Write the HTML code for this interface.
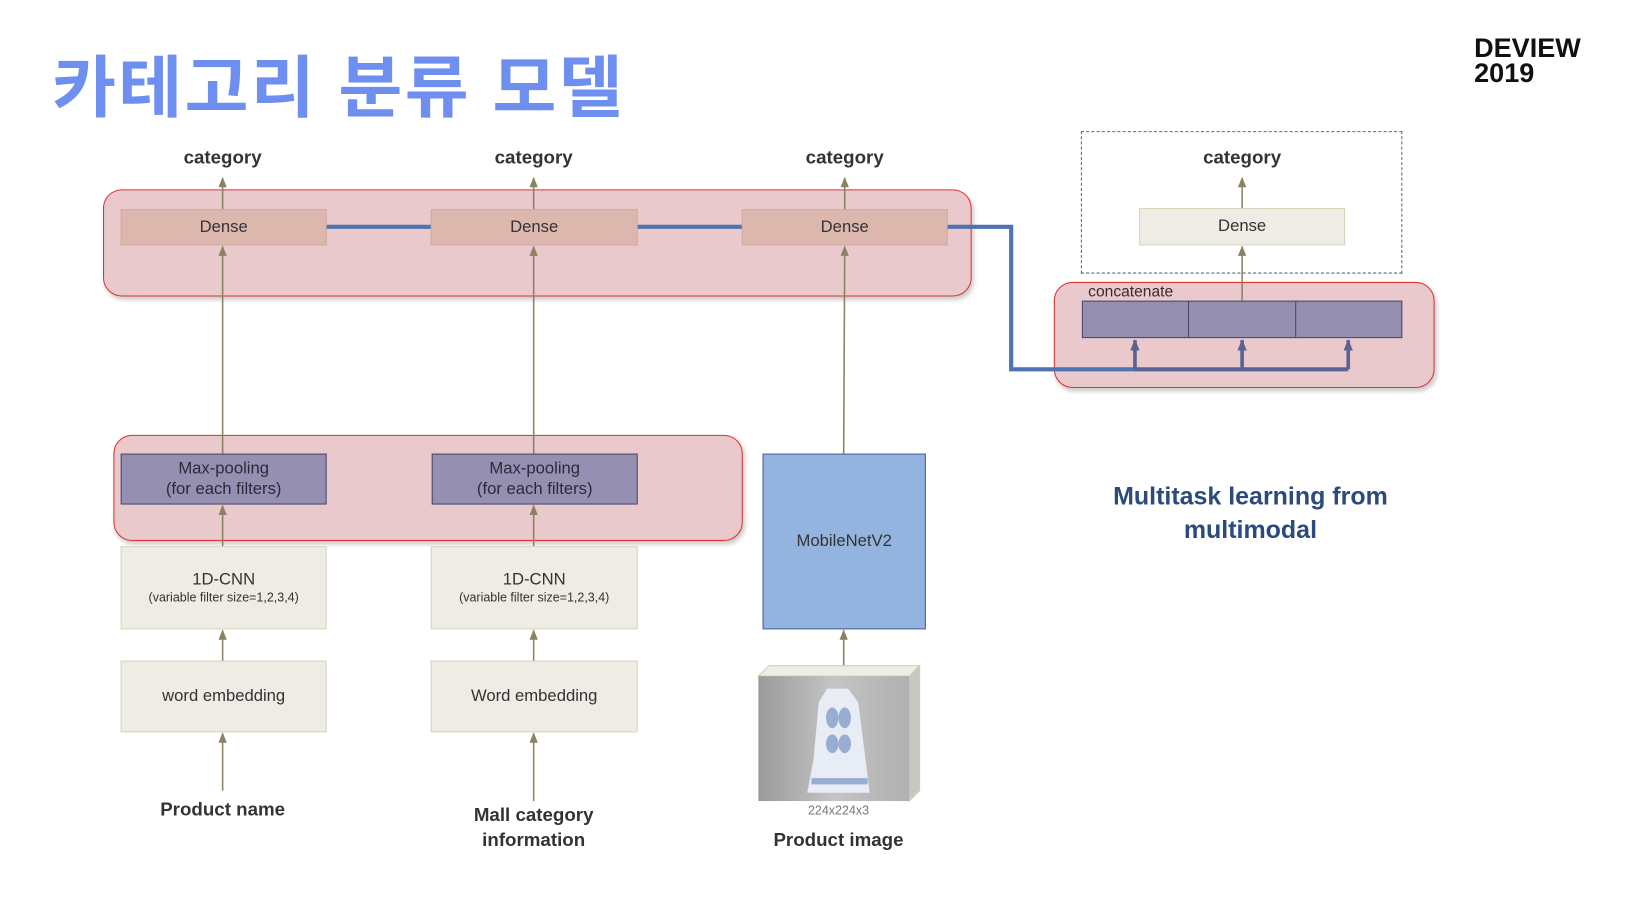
<!DOCTYPE html>
<html><head><meta charset="utf-8"><style>
body{margin:0;background:#fff;width:1626px;height:898px;overflow:hidden}
#s{position:absolute;left:0;top:0;width:1563px;height:863px;transform:scale(1.0403);transform-origin:0 0;font-family:"Liberation Sans",sans-serif}
.a{position:absolute;box-sizing:border-box}
.t{position:absolute;text-align:center;white-space:nowrap}
.red{border:1.5px solid #e03232;background:#e9c9cb;border-radius:18px;box-shadow:2px 3px 4px rgba(0,0,0,.2)}
.dn{background:#dcb7ae;border:1px solid #d2a99e;font-size:16px;color:#333;display:flex;align-items:center;justify-content:center}
.mp{background:#9590b2;border:1px solid #4e4668;font-size:16px;color:#2a2a3a;display:flex;align-items:center;justify-content:center;text-align:center;line-height:20px}
.bg{background:#eeece5;border:1px solid #d9d5bb;color:#333;display:flex;flex-direction:column;align-items:center;justify-content:center;font-size:16px}
.cat{font-weight:bold;font-size:18px;color:#333;width:200px}
.lab{font-weight:bold;font-size:18px;color:#333;width:240px;line-height:24px}
</style></head><body><div id="s">
<div class="t" style="left:50px;top:32px;font-size:65px;color:#6f8ff0;font-family:'Liberation Sans','Noto Sans CJK KR',sans-serif;font-weight:bold;letter-spacing:2px;text-align:left;transform:scaleX(1.03);transform-origin:0 0">카테고리 분류 모델</div>
<div class="t" style="left:1417px;top:34px;font-size:26px;font-weight:bold;line-height:24px;text-align:left;color:#111">DEVIEW<br>2019</div>

<div class="a red" style="left:99px;top:182px;width:835px;height:103px"></div>
<div class="a red" style="left:109px;top:418px;width:605px;height:102px"></div>
<div class="a red" style="left:1013px;top:271px;width:366px;height:102px"></div>
<div class="a" style="left:1039px;top:126px;width:309px;height:137px;border:1.5px dashed #4f6a96"></div>

<div class="a dn" style="left:116px;top:201px;width:198px;height:35px">Dense</div>
<div class="a dn" style="left:414px;top:201px;width:199px;height:35px">Dense</div>
<div class="a dn" style="left:713px;top:201px;width:198px;height:35px">Dense</div>
<div class="a bg" style="left:1095px;top:200px;width:198px;height:36px">Dense</div>

<div class="a mp" style="left:116px;top:436px;width:198px;height:49px">Max-pooling<br>(for each filters)</div>
<div class="a mp" style="left:415px;top:436px;width:198px;height:49px">Max-pooling<br>(for each filters)</div>
<div class="a" style="left:1040px;top:289px;width:308px;height:36px;background:#958faf;border:1px solid #4e4668"></div>
<div class="a" style="left:1142px;top:289px;width:1px;height:36px;background:#4e4668"></div>
<div class="a" style="left:1245px;top:289px;width:1px;height:36px;background:#4e4668"></div>
<div class="t" style="left:1046px;top:272px;font-size:15px;color:#3a2a2a">concatenate</div>

<div class="a bg" style="left:116px;top:525px;width:198px;height:80px"><div>1D-CNN</div><div style="font-size:12px">(variable filter size=1,2,3,4)</div></div>
<div class="a bg" style="left:414px;top:525px;width:199px;height:80px"><div>1D-CNN</div><div style="font-size:12px">(variable filter size=1,2,3,4)</div></div>
<div class="a bg" style="left:116px;top:635px;width:198px;height:69px">word embedding</div>
<div class="a bg" style="left:414px;top:635px;width:199px;height:69px">Word embedding</div>
<div class="a" style="left:733px;top:436px;width:157px;height:169px;background:#94b4e0;border:1px solid #44629a;display:flex;align-items:center;justify-content:center;font-size:16px;color:#333">MobileNetV2</div>

<svg class="a" style="left:0;top:0" width="1563" height="863">
<defs><marker id="ar" markerUnits="userSpaceOnUse" markerWidth="8" markerHeight="10" refX="4" refY="1" viewBox="0 0 8 10"><path d="M0,10 L4,0 L8,10z" fill="#8a8262"/></marker>
<marker id="ab" markerUnits="userSpaceOnUse" markerWidth="9" markerHeight="11" refX="4.5" refY="1" viewBox="0 0 9 11"><path d="M0,11 L4.5,0 L9,11z" fill="#5a6294"/></marker></defs>
<g stroke="#8a8262" stroke-width="1.5" marker-end="url(#ar)">
<line x1="214" y1="201" x2="214" y2="171"/><line x1="513" y1="201" x2="513" y2="171"/><line x1="812" y1="201" x2="812" y2="171"/><line x1="1194" y1="200" x2="1194" y2="171"/>
<line x1="214" y1="436" x2="214" y2="237"/><line x1="513" y1="436" x2="513" y2="237"/><line x1="811" y1="436" x2="812" y2="237"/><line x1="1194" y1="289" x2="1194" y2="237"/>
<line x1="214" y1="525" x2="214" y2="486"/><line x1="513" y1="525" x2="513" y2="486"/>
<line x1="214" y1="635" x2="214" y2="606"/><line x1="513" y1="635" x2="513" y2="606"/><line x1="811" y1="640" x2="811" y2="606"/>
<line x1="214" y1="760" x2="214" y2="705"/><line x1="513" y1="770" x2="513" y2="705"/>
</g>
<g stroke="#4f72b0" stroke-width="4" fill="none">
<line x1="314" y1="218" x2="414" y2="218"/><line x1="613" y1="218" x2="713" y2="218"/>
<polyline points="911,218 972,218 972,355 1091,355"/></g>
<g stroke="#5a6294" stroke-width="4" fill="none"><polyline points="1091,355 1296,355"/></g>
<g stroke="#5a6294" stroke-width="3.5" marker-end="url(#ab)">
<line x1="1091" y1="355" x2="1091" y2="327"/><line x1="1194" y1="355" x2="1194" y2="327"/><line x1="1296" y1="355" x2="1296" y2="327"/></g>
<polygon points="729,650 739,640 884,640 874,650" fill="#eeede6" stroke="#d0ccb0"/>
<polygon points="874,650 884,640 884,760 874,770" fill="#c8c8c0" stroke="#d0ccb0"/>
<defs><linearGradient id="g" x1="0" x2="1"><stop offset="0" stop-color="#9a9a9a"/><stop offset=".5" stop-color="#c4c4c4"/><stop offset="1" stop-color="#b0b0b0"/></linearGradient></defs>
<rect x="729" y="650" width="145" height="120" fill="url(#g)"/>
<path d="M795,662 L815,662 L825,675 L832,730 L836,762 L776,762 L782,730 L787,675z" fill="#e8ecf4"/>
<g fill="#7f98c8" opacity=".75"><ellipse cx="800" cy="690" rx="6" ry="10"/><ellipse cx="812" cy="690" rx="6" ry="10"/><ellipse cx="800" cy="715" rx="6" ry="9"/><ellipse cx="812" cy="715" rx="6" ry="9"/><rect x="780" y="748" width="54" height="6"/></g>
</svg>

<div class="t cat" style="left:114px;top:141px">category</div>
<div class="t cat" style="left:413px;top:141px">category</div>
<div class="t cat" style="left:712px;top:141px">category</div>
<div class="t cat" style="left:1094px;top:141px">category</div>
<div class="t lab" style="left:94px;top:766px">Product name</div>
<div class="t lab" style="left:393px;top:771px">Mall category<br>information</div>
<div class="t lab" style="left:686px;top:795px">Product image</div>
<div class="t" style="left:756px;top:772px;width:100px;font-size:12px;color:#777">224x224x3</div>
<div class="t" style="left:1002px;top:462px;width:400px;font-weight:bold;font-size:24px;color:#2c4a7c;line-height:32px">Multitask learning from<br>multimodal</div>
</div></body></html>
